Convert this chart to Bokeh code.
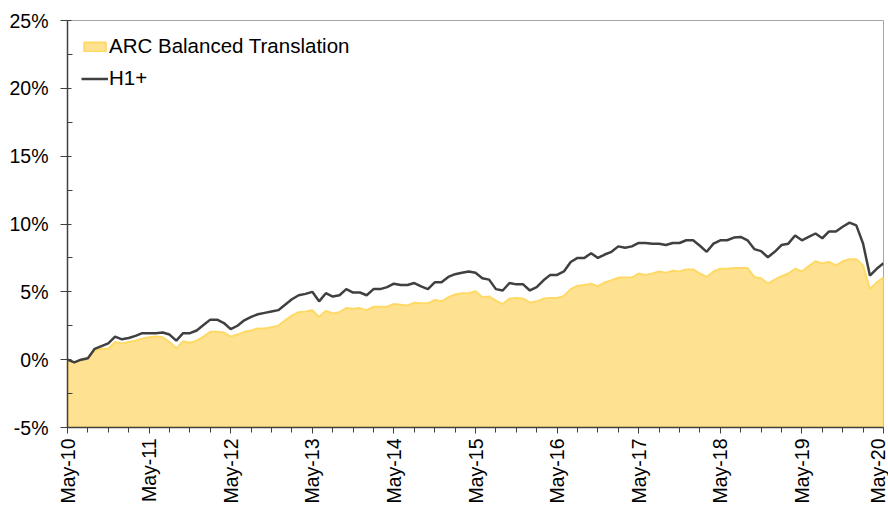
from bokeh.plotting import figure
from bokeh.models import FixedTicker, PrintfTickFormatter, Range1d, Legend, LegendItem, ColumnDataSource
from bokeh.embed import file_html
from bokeh.resources import INLINE
import math

# ---- data (monthly, May-2010 .. May-2020), cumulative return in % ----
arc_balanced = [
    0.0, -0.2, 0.0, 0.1, 0.65, 0.8, 0.8, 1.3, 1.2, 1.3, 1.4, 1.55, 1.65, 1.7, 1.65, 1.3, 0.85, 1.35, 1.25, 1.4, 1.7, 2.05, 2.05, 2.0, 1.7,
    1.85, 2.05, 2.15, 2.3, 2.3, 2.4, 2.5, 2.9, 3.25, 3.5, 3.55, 3.65, 3.15, 3.6, 3.4, 3.5, 3.8, 3.75, 3.8, 3.65, 3.9, 3.9, 3.9, 4.1,
    4.05, 4.0, 4.2, 4.15, 4.15, 4.4, 4.3, 4.6, 4.8, 4.9, 4.9, 5.05, 4.6, 4.65, 4.35, 4.1, 4.5, 4.55, 4.5, 4.2, 4.3, 4.5, 4.55, 4.55,
    4.7, 5.2, 5.45, 5.5, 5.6, 5.4, 5.7, 5.85, 6.05, 6.05, 6.05, 6.35, 6.25, 6.35, 6.5, 6.4, 6.55, 6.5, 6.65, 6.65, 6.35, 6.1, 6.5, 6.7,
    6.7, 6.75, 6.75, 6.75, 6.1, 6.0, 5.6, 5.9, 6.15, 6.35, 6.7, 6.5, 6.9, 7.25, 7.1, 7.2, 6.95, 7.25, 7.4, 7.4, 6.95, 5.2, 5.7, 6.05,
]
h1_plus = [
    0.0, -0.2, 0.0, 0.1, 0.8, 1.0, 1.2, 1.7, 1.5, 1.6, 1.75, 1.95, 1.95, 1.95, 2.0, 1.85, 1.4, 1.95, 1.95, 2.15, 2.55, 2.95, 2.95, 2.7, 2.25,
    2.5, 2.9, 3.15, 3.35, 3.45, 3.55, 3.65, 4.05, 4.45, 4.75, 4.85, 5.0, 4.3, 4.9, 4.65, 4.75, 5.2, 4.95, 4.95, 4.75, 5.2, 5.2, 5.35, 5.6,
    5.5, 5.5, 5.65, 5.4, 5.2, 5.7, 5.7, 6.1, 6.3, 6.4, 6.5, 6.4, 6.0, 5.9, 5.2, 5.1, 5.65, 5.55, 5.55, 5.1, 5.35, 5.85, 6.25, 6.25,
    6.5, 7.2, 7.5, 7.5, 7.85, 7.5, 7.75, 7.95, 8.35, 8.25, 8.35, 8.6, 8.6, 8.55, 8.55, 8.45, 8.6, 8.6, 8.8, 8.8, 8.4, 7.95, 8.55, 8.8,
    8.8, 9.0, 9.05, 8.8, 8.15, 8.0, 7.55, 7.95, 8.45, 8.55, 9.15, 8.8, 9.05, 9.3, 8.95, 9.45, 9.45, 9.8, 10.1, 9.9, 8.55, 6.2, 6.7, 7.1,
]
tick_labels = ["May-10", "May-11", "May-12", "May-13", "May-14", "May-15",
               "May-16", "May-17", "May-18", "May-19", "May-20"]
y_ticks = [-5, 0, 5, 10, 15, 20, 25]
series_names = ["ARC Balanced Translation", "H1+"]

months = list(range(len(arc_balanced)))
y_min, y_max = y_ticks[0], y_ticks[-1]

# closed polygon for the filled area (series on top, axis minimum as the floor)
area_x = months + months[::-1]
area_y = arc_balanced + [y_min] * len(months)

line_src = ColumnDataSource(dict(x=months, h1=h1_plus))

FONT = "Liberation Sans"
AXIS_COLOR = "#404040"

p = figure(width=888, height=506, output_backend="svg", toolbar_location=None,
           x_range=Range1d(0, months[-1]), y_range=Range1d(y_min, y_max),
           min_border_left=67, min_border_right=5, min_border_top=20, min_border_bottom=79)
p.outline_line_color = "#a6a6a6"
p.outline_line_width = 1
p.xgrid.visible = False
p.ygrid.visible = False
p.background_fill_color = "white"
p.border_fill_color = "white"

area = p.patch(x=area_x, y=area_y, fill_color="#FFE291", line_color="#FFD966", line_width=2)
h1 = p.line(x="x", y="h1", source=line_src, line_color="#404040", line_width=2.5)

# x axis
year_ticks = list(range(0, months[-1] + 1, 12))
p.xaxis.ticker = FixedTicker(ticks=year_ticks, minor_ticks=list(range(0, months[-1] + 1, 3)))
p.xaxis.major_label_overrides = {t: lab for t, lab in zip(year_ticks, tick_labels)}
p.xaxis.major_label_orientation = math.pi / 2
p.xaxis.major_label_text_font = FONT
p.xaxis.major_label_text_font_size = "19.5px"
p.xaxis.major_label_text_color = "black"
p.xaxis.major_label_standoff = 5
p.xaxis.axis_line_color = AXIS_COLOR
p.xaxis.axis_line_width = 1.5
p.xaxis.major_tick_line_color = AXIS_COLOR
p.xaxis.minor_tick_line_color = AXIS_COLOR
p.xaxis.major_tick_out = 6
p.xaxis.major_tick_in = 0
p.xaxis.minor_tick_out = 5
p.xaxis.minor_tick_in = 0

# y axis
p.yaxis.ticker = FixedTicker(ticks=y_ticks,
                             minor_ticks=[t + 2.5 for t in y_ticks[:-1]])
p.yaxis.formatter = PrintfTickFormatter(format="%d%%")
p.yaxis.major_label_text_font = FONT
p.yaxis.major_label_text_font_size = "19.5px"
p.yaxis.major_label_text_color = "black"
p.yaxis.major_label_standoff = 12
p.yaxis.axis_line_color = AXIS_COLOR
p.yaxis.axis_line_width = 1.5
p.yaxis.major_tick_line_color = AXIS_COLOR
p.yaxis.minor_tick_line_color = AXIS_COLOR
p.yaxis.major_tick_out = 7
p.yaxis.major_tick_in = 4
p.yaxis.minor_tick_out = 0
p.yaxis.minor_tick_in = 5

legend = Legend(items=[LegendItem(label=series_names[0], renderers=[area]),
                       LegendItem(label=series_names[1], renderers=[h1])],
                location="top_left", margin=0, padding=14, spacing=8,
                background_fill_alpha=0, border_line_alpha=0,
                label_text_font=FONT, label_text_font_size="20.5px",
                label_text_color="black",
                label_standoff=1, glyph_width=27, glyph_height=11)
p.add_layout(legend)

open("out.html", "w").write(file_html(p, INLINE))
